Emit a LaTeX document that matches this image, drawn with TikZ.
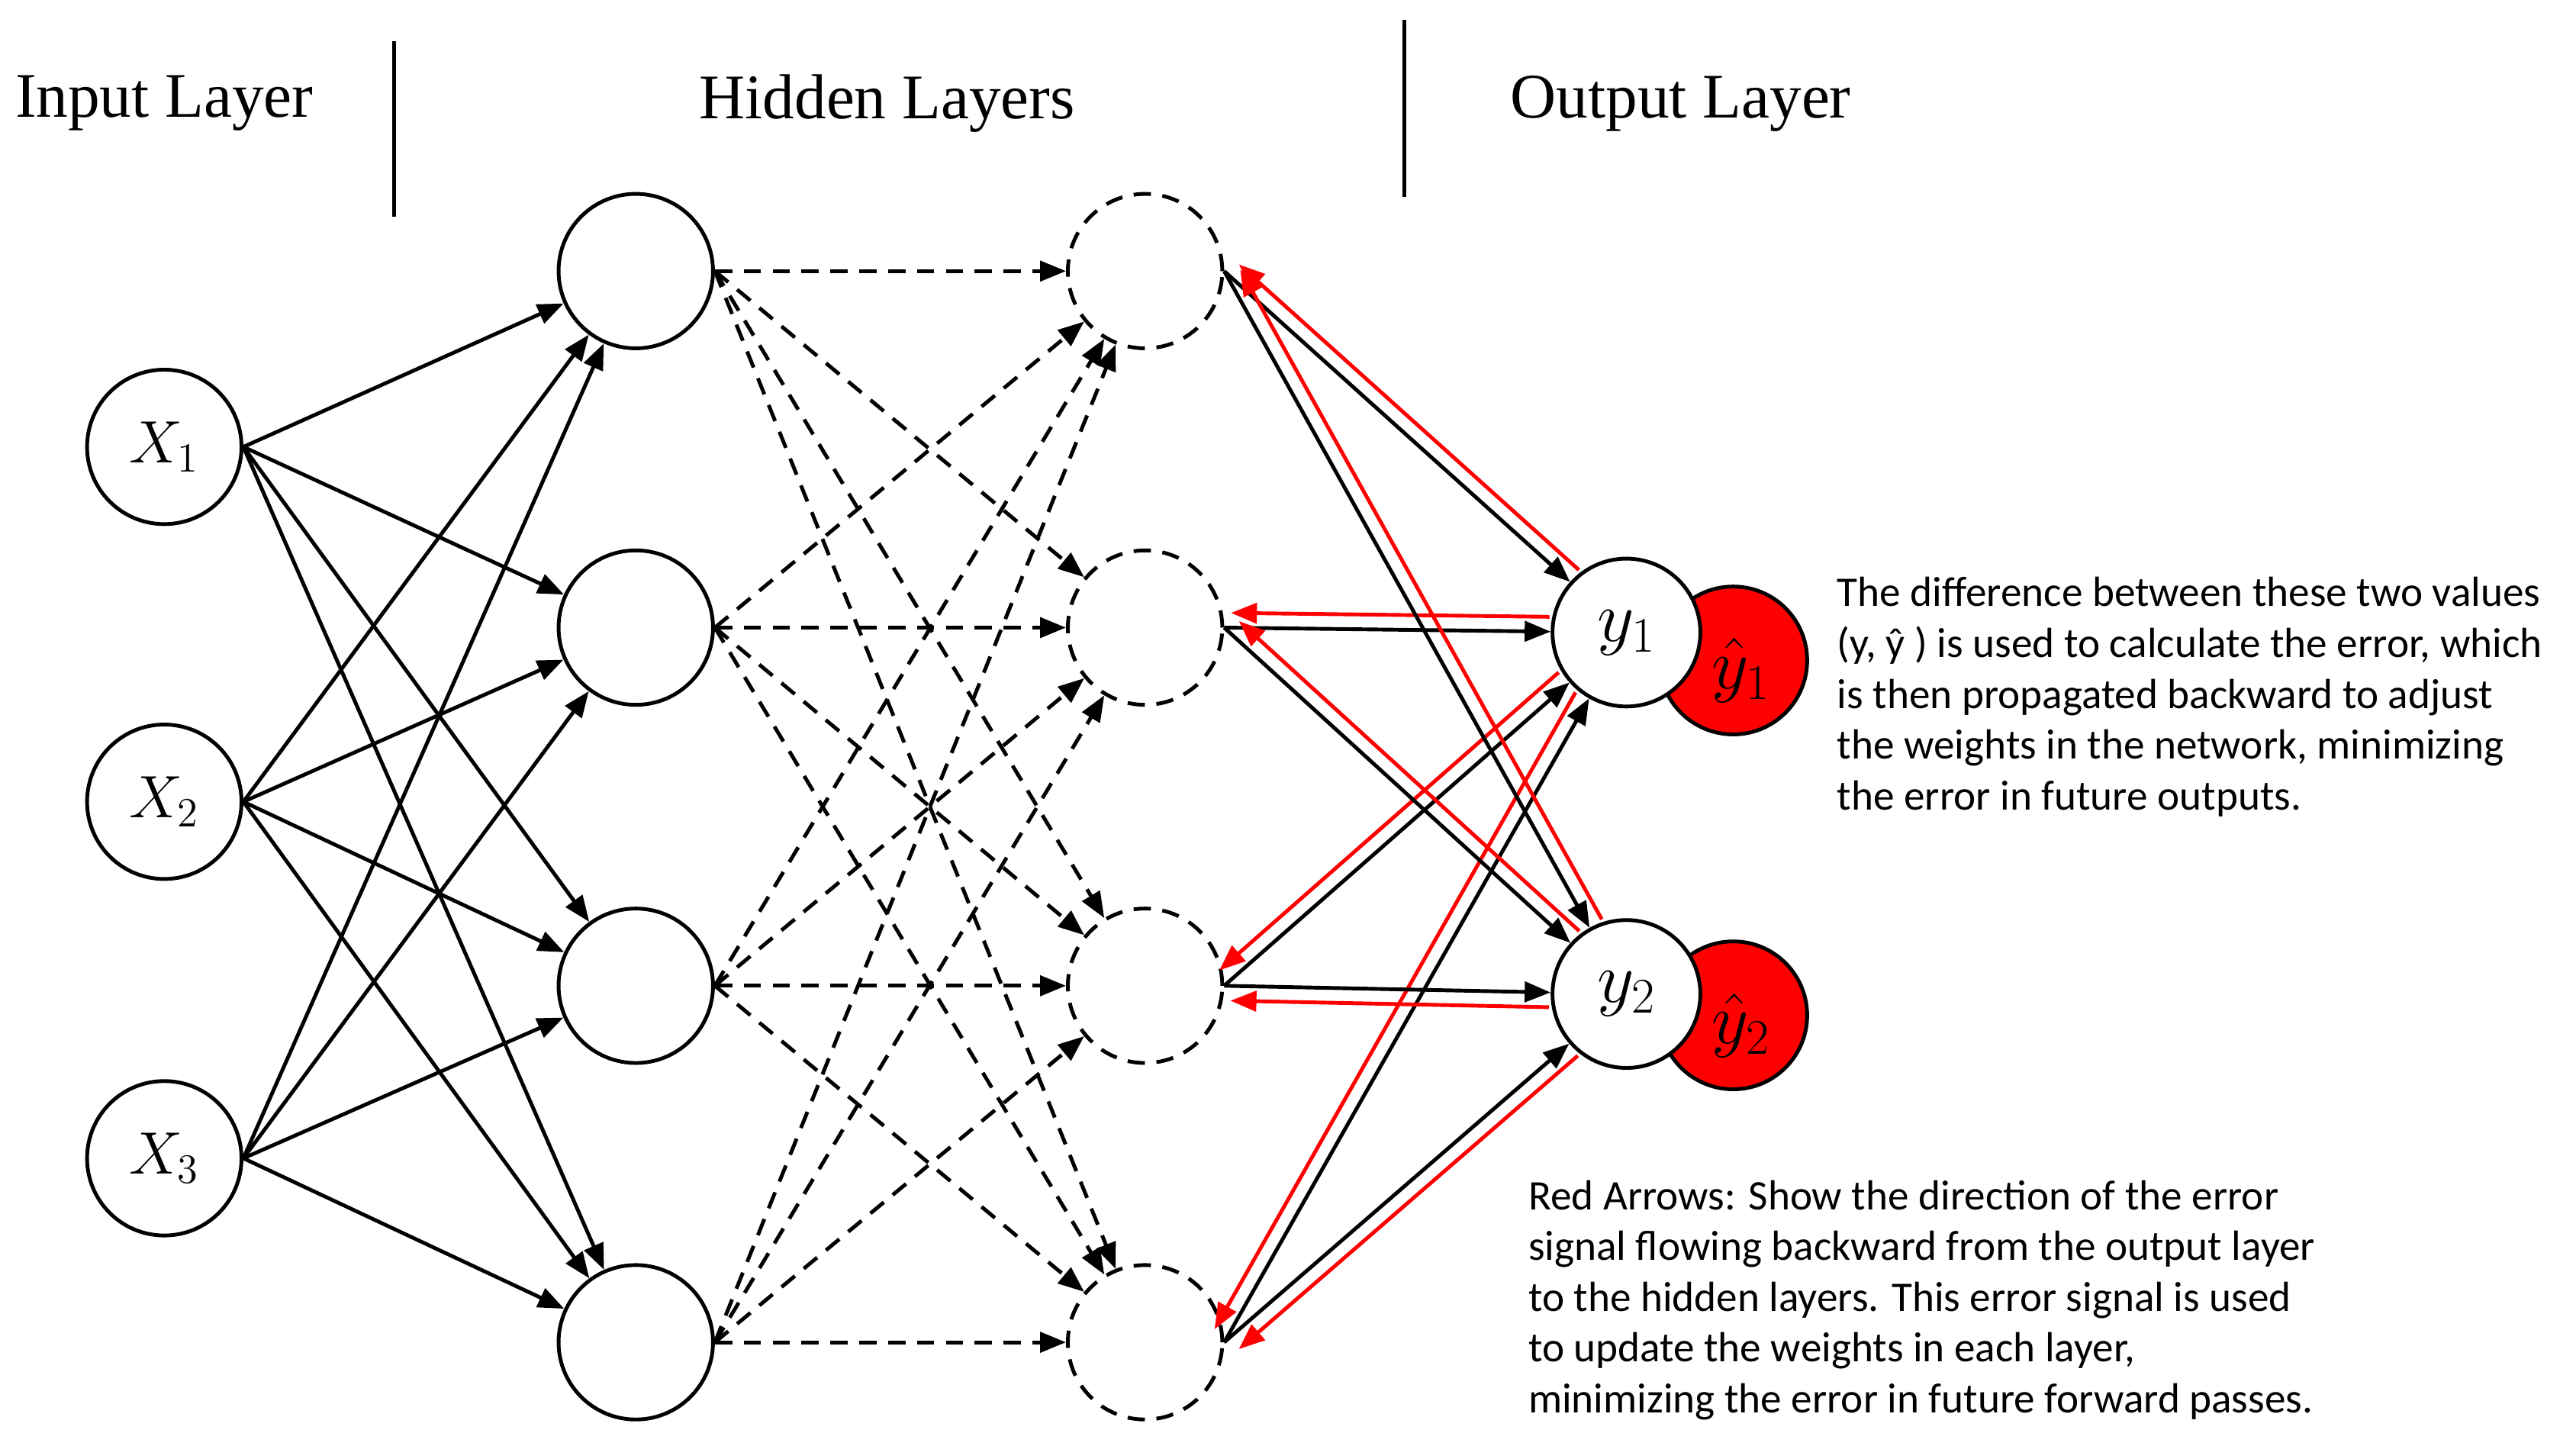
\documentclass[tikz,border=0pt]{standalone}
\usepackage{fontspec}
\setmainfont{Liberation Serif}
\newfontfamily\carl{Carlito}
\usetikzlibrary{calc,arrows.meta}
\begin{document}
\begin{tikzpicture}[x=0.02cm,y=-0.02cm,
  neu/.style={circle,draw,line width=1.3pt,minimum size=94*0.02cm,inner sep=0pt,fill=white},
  dneu/.style={neu,dashed,dash pattern=on 6pt off 4pt},
  arr/.style={line width=1.3pt,-{Triangle[length=9pt,width=7pt]}},
  darr/.style={arr,dash pattern=on 6pt off 4pt},
  rarr/.style={line width=1.3pt,red,-{Triangle[length=9pt,width=7pt]}},
  hd/.style={font=\fontsize{22}{26}\selectfont},
  note/.style={font=\carl\fontsize{14.6}{17.6}\selectfont,align=left,anchor=north west,inner sep=0pt}]
\useasboundingbox (0,0) rectangle (1568,880);
\node[hd] (tin) at (100,63) {Input Layer};
\node[hd] (thid) at (540,63) {Hidden Layers};
\node[hd] (tout) at (1023,63) {Output Layer};
\coordinate (s1a) at (240,25); \coordinate (s1b) at (240,132);
\coordinate (s2a) at (855,12); \coordinate (s2b) at (855,120);
\draw[line width=1.3pt] (s1a) -- (s1b);
\draw[line width=1.3pt] (s2a) -- (s2b);
% nodes
\node[neu,font=\fontsize{20}{24}\selectfont] (X1) at (100,272) {$X_1$};
\node[neu,font=\fontsize{20}{24}\selectfont] (X2) at (100,488) {$X_2$};
\node[neu,font=\fontsize{20}{24}\selectfont] (X3) at (100,705) {$X_3$};
\foreach \i/\yy in {1/165,2/382,3/600,4/817}{
  \node[neu] (A\i) at (387,\yy) {};
  \node[dneu] (B\i) at (697,\yy) {};
}
\node[neu,fill=red,minimum size=90*0.02cm] (R1) at (1055,402) {};
\node[neu,fill=red,minimum size=90*0.02cm] (R2) at (1055,618) {};
\node[neu,minimum size=90*0.02cm,font=\fontsize{24}{28}\selectfont] (Y1) at (990,385) {$y_1$};
\node[neu,minimum size=90*0.02cm,font=\fontsize{24}{28}\selectfont] (Y2) at (990,605) {$y_2$};
\node[inner sep=0pt,font=\fontsize{26}{30}\selectfont] (L1) at (1060,408) {$\hat{y}_1$};
\node[inner sep=0pt,font=\fontsize{26}{30}\selectfont] (L2) at (1060,624) {$\hat{y}_2$};
% input -> hidden1
\foreach \i in {1,2,3}{\foreach \j in {1,2,3,4}{
  \draw[arr] (X\i.east) -- (A\j);
}}
% hidden1 -> hidden2
\foreach \i in {1,2,3,4}{\foreach \j in {1,2,3,4}{
  \draw[darr] (A\i.east) -- (B\j);
}}
% hidden2 -> output, with red backward arrows
\foreach \k/\j/\s in {1/1/-90,1/2/-90,1/3/-90,1/4/-90,2/1/-90,2/2/-90,2/3/90,2/4/90}{
  \draw[arr] (B\j.east) -- (Y\k);
  \coordinate (p) at ($(Y\k)!47*0.02cm!(B\j.east)$);
  \coordinate (q) at ($(B\j.east)!4*0.02cm!(Y\k)$);
  \draw[rarr] ($(p)!9*0.02cm!\s:(q)$) -- ($(q)!9*0.02cm!-\s:(p)$);
}
\node[note] (n1) at (1118,351) {The difference between these two values\\(y, \^{y} ) is used to calculate the error, which\\is then propagated backward to adjust\\the weights in the network, minimizing\\the error in future outputs.};
\node[note] (n2) at (930,718) {Red Arrows: Show the direction of the error\\signal flowing backward from the output layer\\to the hidden layers. This error signal is used\\to update the weights in each layer,\\minimizing the error in future forward passes.};
\end{tikzpicture}
\end{document}
